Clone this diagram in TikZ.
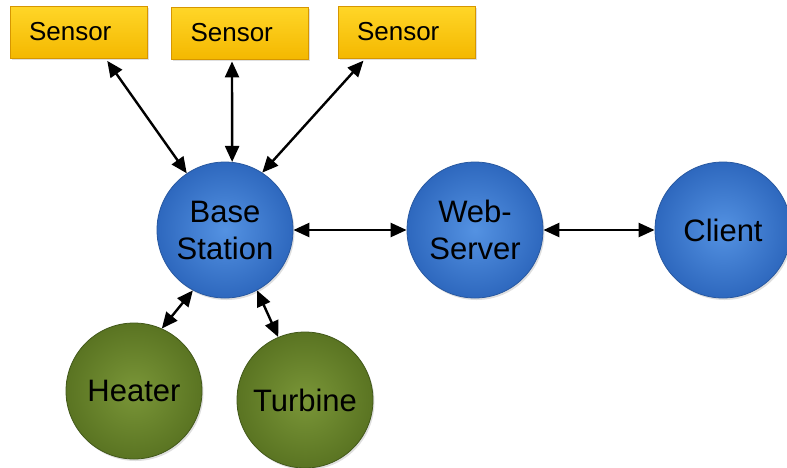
\documentclass[tikz,border=0pt]{standalone}
\usepackage{fontspec}
\setmainfont{Liberation Sans}
\usetikzlibrary{positioning,arrows.meta,shadows}

\definecolor{sensortop}{RGB}{255,214,40}
\definecolor{sensorbot}{RGB}{244,184,0}
\definecolor{sensorrim}{RGB}{214,150,0}
\definecolor{bluein}{RGB}{84,146,226}
\definecolor{blueout}{RGB}{46,104,190}
\definecolor{bluerim}{RGB}{40,88,160}
\definecolor{greenin}{RGB}{122,150,56}
\definecolor{greenout}{RGB}{90,116,34}
\definecolor{greenrim}{RGB}{66,88,26}

\begin{document}
\begin{tikzpicture}[
  x=1pt, y=-1pt,
  sensor/.style={draw=sensorrim, line width=0.8pt, top color=sensortop,
                 bottom color=sensorbot, text width=99pt, inner xsep=19pt,
                 align=left, minimum height=52pt,
                 font=\fontsize{26}{30}\selectfont,
                 drop shadow={opacity=0.25, shadow xshift=1.5pt, shadow yshift=-2pt}},
  unit/.style={circle, minimum size=136pt, inner sep=0pt, align=center,
               line width=0.8pt, font=\fontsize{31}{37}\selectfont,
               drop shadow={opacity=0.25, shadow xshift=1.5pt, shadow yshift=-2pt}},
  blueunit/.style={unit, draw=bluerim, inner color=bluein, outer color=blueout},
  greenunit/.style={unit, draw=greenrim, inner color=greenin, outer color=greenout},
  link/.style={{Triangle[length=16pt,width=14pt]}-{Triangle[length=16pt,width=14pt]},
               line width=2.4pt},
]
  \useasboundingbox (0,0) rectangle (787,467);

  % Sensors
  \node[sensor] (s1) at (78.5,32) {Sensor};
  \node[sensor] (s2) at (240,33) {Sensor};
  \node[sensor] (s3) at (406.5,32) {Sensor};

  % Main chain
  \node[blueunit] (base) at (225,230) {Base\\Station};
  \node[blueunit] (web) at (475,230) {Web-\\Server};
  \node[blueunit] (client) at (723,230) {Client};

  % Devices
  \node[greenunit] (heater) at (134,391) {Heater};
  \node[greenunit] (turbine) at (305,400) {Turbine};

  % Links
  \draw[link, shorten <=3pt] ([xshift=27pt]s1.south) -- (base.124);
  \draw[link, shorten <=2pt] ([xshift=-8pt]s2.south) -- (base.84);
  \draw[link, shorten <=3pt] ([xshift=-41pt]s3.south) -- (base.57);
  \draw[link] (base.east) -- (web.west);
  \draw[link] (web.east) -- (client.west);
  \draw[link] (base.242) -- (heater.66);
  \draw[link] (base.298) -- (turbine.113);
\end{tikzpicture}
\end{document}
